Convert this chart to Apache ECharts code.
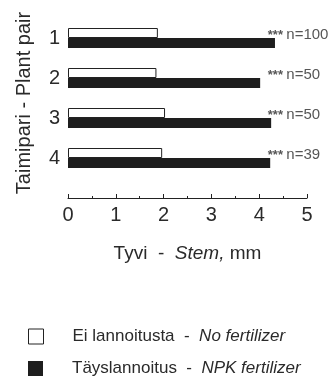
<!DOCTYPE html>
<html><head><meta charset="utf-8">
<script src="https://cdn.jsdelivr.net/npm/echarts@6/dist/echarts.min.js"></script>
<style>html,body{margin:0;padding:0;background:#fff}#c{width:333px;height:381px}</style>
</head><body><div id="c"></div>
<script>
var categories = ['1', '2', '3', '4'];
var noFertilizer = [1.88, 1.85, 2.03, 1.97];
var npkFertilizer = [4.33, 4.02, 4.25, 4.23];
var sampleSizes = ['n=100', 'n=50', 'n=50', 'n=39'];
var significance = ['***', '***', '***', '***'];
var xTicks = [0, 1, 2, 3, 4, 5];
var seriesNames = ['Ei lannoitusta - No fertilizer', 'Täyslannoitus - NPK fertilizer'];

var FONT = 'Liberation Sans';
var TXT = '#2a2a2a';
var chart = echarts.init(document.getElementById('c'));
var labelX = 4.18;

function legendFor(name, top, style) {
  return {
    left: 28, top: top, itemWidth: 15, itemHeight: 15, padding: 0,
    data: [{name: name, icon: 'rect', itemStyle: style}],
    formatter: function (n) {
      var p = n.split(' - ');
      return '{a|' + p[0] + '  -  }{b|' + p[1] + '}';
    },
    textStyle: {
      padding: [0, 0, 0, 24],
      rich: {
        a: {fontFamily: FONT, fontSize: 17, color: TXT},
        b: {fontFamily: FONT, fontSize: 17, color: TXT, fontStyle: 'italic'}
      }
    }
  };
}

chart.setOption({
  animation: false,
  textStyle: {fontFamily: FONT, color: TXT},
  grid: {left: 68, top: 18, width: 239, height: 160},
  legend: [
    legendFor(seriesNames[0], 328, {color: '#fff', borderColor: '#222', borderWidth: 1}),
    legendFor(seriesNames[1], 360, {color: '#1e1e1e'})
  ],
  xAxis: {
    type: 'value', min: 0, max: 5, interval: 1, offset: 20,
    axisLine: {show: true, lineStyle: {color: '#222', width: 1}},
    axisTick: {show: true, inside: true, length: 4, lineStyle: {color: '#222'}},
    minorTick: {show: true, splitNumber: 2, length: 2, lineStyle: {color: '#222'}},
    splitLine: {show: false},
    axisLabel: {fontSize: 20, color: TXT, margin: 7, fontFamily: FONT,
      formatter: function (v) { return xTicks.indexOf(v) >= 0 ? String(v) : ''; }},
    name: '{a|Tyvi  -  }{b|Stem,}{a| mm}',
    nameLocation: 'middle', nameGap: 46,
    nameTextStyle: {rich: {
      a: {fontFamily: FONT, fontSize: 19, color: TXT},
      b: {fontFamily: FONT, fontSize: 19, color: TXT, fontStyle: 'italic'}
    }}
  },
  yAxis: {
    type: 'category', data: categories, inverse: true,
    axisLine: {show: false}, axisTick: {show: false},
    axisLabel: {fontSize: 20, color: TXT, margin: 8, fontFamily: FONT},
    name: 'Taimipari - Plant pair', nameLocation: 'middle', nameRotate: 90, nameGap: 34,
    nameTextStyle: {fontSize: 20, color: TXT, fontFamily: FONT, padding: [0, 10, 0, 0]}
  },
  series: [
    {name: seriesNames[0], type: 'bar', data: noFertilizer, barWidth: 10, barGap: '0%',
      itemStyle: {color: '#fff', borderColor: '#222', borderWidth: 1}},
    {name: seriesNames[1], type: 'bar', data: npkFertilizer, barWidth: 10, barGap: '0%',
      itemStyle: {color: '#1e1e1e'}},
    {type: 'scatter', symbolSize: 0, silent: true,
      data: categories.map(function (c) { return [labelX, c]; }),
      label: {show: true, position: 'right', distance: 0, offset: [0, -3],
        formatter: function (p) {
          return '{s|' + significance[p.dataIndex] + '} {n|' + sampleSizes[p.dataIndex] + '}';
        },
        rich: {
          s: {fontSize: 13, fontWeight: 'bold', color: TXT, fontFamily: FONT},
          n: {fontSize: 15, color: TXT, fontFamily: FONT}
        }}}
  ]
});
</script></body></html>
